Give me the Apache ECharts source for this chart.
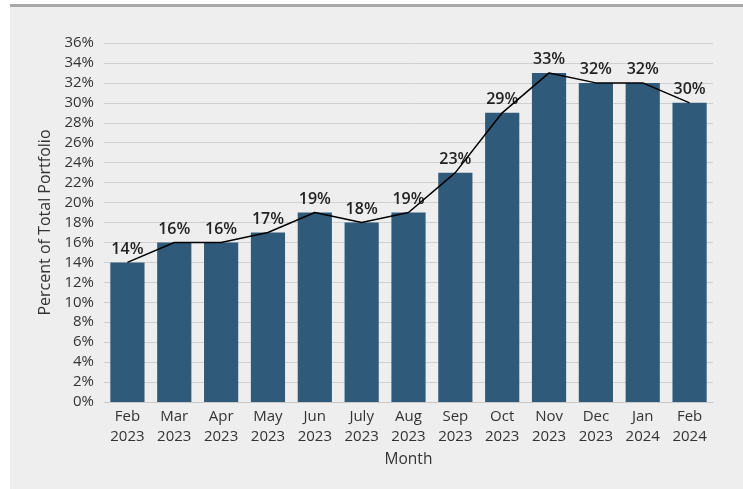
<!DOCTYPE html>
<html><head><meta charset="utf-8">
<script src="https://cdn.jsdelivr.net/npm/echarts@6/dist/echarts.min.js"></script>
<style>
html,body{margin:0;padding:0;background:#fff;}
#panel{position:absolute;left:10px;top:4px;width:733px;height:485px;background:#eeeeee;border-top:3px solid #a8a8a8;box-sizing:border-box;}
#chart{position:absolute;left:0;top:0;width:743px;height:489px;}
</style></head>
<body>
<div id="panel"></div>
<div id="chart"></div>
<script>
const categories = ['Feb\n2023','Mar\n2023','Apr\n2023','May\n2023','Jun\n2023','July\n2023','Aug\n2023','Sep\n2023','Oct\n2023','Nov\n2023','Dec\n2023','Jan\n2024','Feb\n2024'];
const values = [14,16,16,17,19,18,19,23,29,33,32,32,30];
const yTicks = {min:0, max:36, interval:2};

const chart = echarts.init(document.getElementById('chart'));
const font = '"Open Sans", "Noto Sans", sans-serif';
chart.setOption({
  backgroundColor: 'transparent',
  animation: false,
  textStyle: {fontFamily: font},
  grid: {left:104, right:30, top:43, bottom:87, containLabel:false},
  xAxis: {
    type:'category', data: categories,
    name:'Month', nameLocation:'middle', nameGap:49,
    nameTextStyle:{fontSize:15.5, color:'#333', fontFamily:font},
    axisLine:{show:true, lineStyle:{color:'#c8c8c8', width:1}},
    axisTick:{show:false},
    axisLabel:{fontSize:15, color:'#333', lineHeight:20, margin:5, fontFamily:font, interval:0}
  },
  yAxis: {
    type:'value', min:yTicks.min, max:yTicks.max, interval:yTicks.interval,
    name:'Percent of Total Portfolio', nameLocation:'middle', nameGap:48,
    nameTextStyle:{fontSize:16, color:'#333', fontFamily:font},
    axisLine:{show:false}, axisTick:{show:false},
    axisLabel:{fontSize:15, color:'#333', margin:10, formatter:'{value}%', fontFamily:font},
    splitLine:{lineStyle:{color:'#d0d0d0', width:1}}
  },
  series: [
    {type:'bar', data: values, barCategoryGap:'27%',
     itemStyle:{color:'#305a7a'},
     label:{show:true, position:'top', distance:5, formatter:'{c}%', fontSize:16, fontWeight:600, color:'#222', fontFamily:font}
    },
    {type:'line', data: values, symbol:'none', lineStyle:{color:'#000', width:1.5}, z:5}
  ]
});
</script>
</body></html>
